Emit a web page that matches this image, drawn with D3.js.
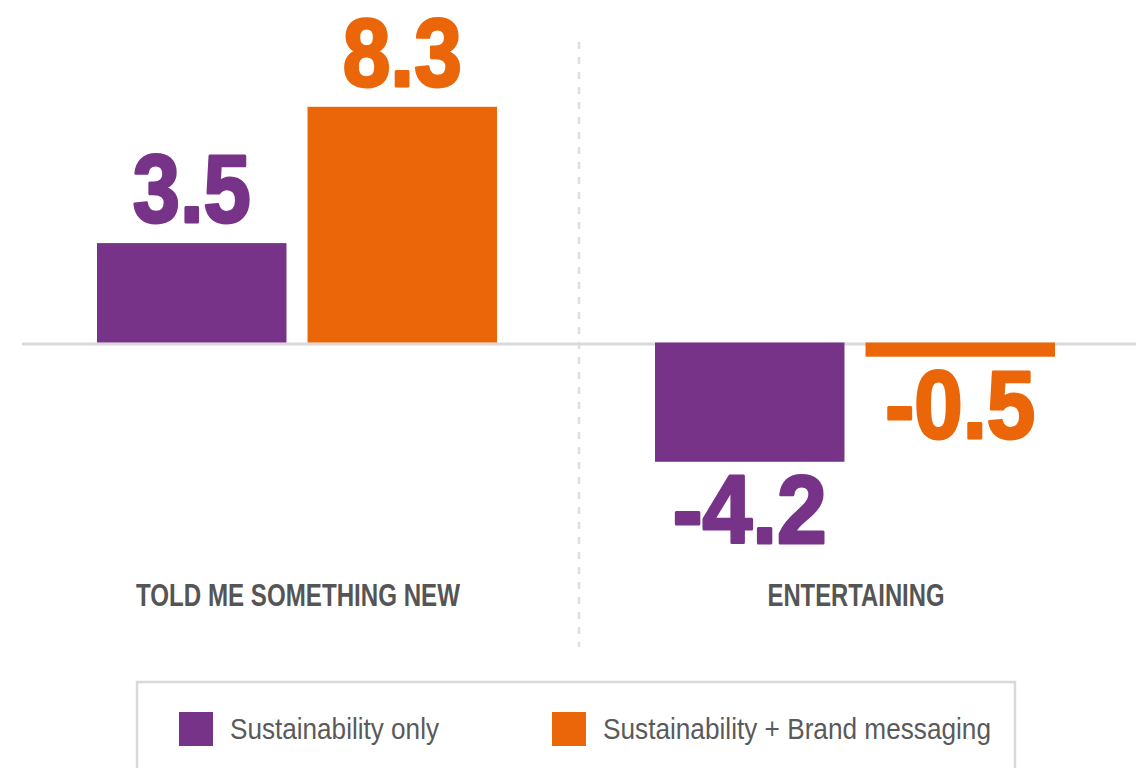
<!DOCTYPE html>
<html>
<head>
<meta charset="utf-8">
<script src="https://cdn.jsdelivr.net/npm/d3@7"></script>
<style>
  html, body { margin: 0; padding: 0; background: #fff; }
  svg { display: block; }
</style>
</head>
<body>
<svg id="chart" width="1148" height="768"></svg>
<script>
const categories = ["TOLD ME SOMETHING NEW", "ENTERTAINING"];
const seriesNames = ["Sustainability only", "Sustainability + Brand messaging"];
const sustainabilityOnly = [3.5, -4.2];
const sustainabilityBrand = [8.3, -0.5];
const valueLabels = [["3.5", "-4.2"], ["8.3", "-0.5"]];
const seriesValues = [sustainabilityOnly, sustainabilityBrand];
const colors = ["#773388", "#eb6608"];

const W = 1148, H = 768;
const svg = d3.select("#chart");
const narrow = "'Liberation Sans Narrow', 'Arial Narrow', 'Liberation Sans', sans-serif";

const x = d3.scaleBand().domain(categories).range([18, 1134]).padding(0);
const xs = d3.scaleBand().domain(seriesNames).range([79, 479]).paddingInner(0.1).paddingOuter(0);
const y = d3.scaleLinear().domain([-10, 10]).range([342.5 + 284, 342.5 - 284]);

// divider between groups
svg.append("line")
  .attr("x1", x(categories[1]) + 3).attr("x2", x(categories[1]) + 3)
  .attr("y1", 42).attr("y2", 647)
  .attr("stroke", "#dedede").attr("stroke-width", 2.5)
  .attr("stroke-dasharray", "7,8");

// zero line
svg.append("line")
  .attr("x1", 22).attr("x2", 1136)
  .attr("y1", y(0) + 1.5).attr("y2", y(0) + 1.5)
  .attr("stroke", "#d9d9d9").attr("stroke-width", 3);

const data = [];
categories.forEach((c, ci) => {
  seriesNames.forEach((s, si) => {
    data.push({cat: c, ser: s, si, v: seriesValues[si][ci], label: valueLabels[si][ci]});
  });
});

const g = svg.append("g");
g.selectAll("rect.bar").data(data).enter().append("rect")
  .attr("class", "bar")
  .attr("x", d => x(d.cat) + xs(d.ser))
  .attr("width", xs.bandwidth())
  .attr("y", d => Math.min(y(d.v), y(0)))
  .attr("height", d => Math.abs(y(d.v) - y(0)))
  .attr("fill", d => colors[d.si]);

const labelWidths = {"3.5": 121, "8.3": 122, "-4.2": 157, "-0.5": 153};
g.selectAll("text.val").data(data).enter().append("text")
  .attr("class", "val")
  .attr("x", d => x(d.cat) + xs(d.ser) + xs.bandwidth() / 2)
  .attr("y", d => d.v >= 0 ? y(d.v) - 21 : y(d.v) + 81)
  .attr("text-anchor", "middle")
  .attr("font-family", narrow)
  .attr("font-weight", "bold")
  .attr("font-size", 96)
  .attr("fill", d => colors[d.si])
  .attr("stroke", d => colors[d.si])
  .attr("stroke-width", 3)
  .attr("stroke-linejoin", "round")
  .attr("textLength", d => labelWidths[d.label] - 3)
  .attr("lengthAdjust", "spacingAndGlyphs")
  .text(d => d.label);

// category labels
const catWidths = [324, 177];
svg.selectAll("text.cat").data(categories).enter().append("text")
  .attr("class", "cat")
  .attr("x", d => x(d) + x.bandwidth() / 2 + 1)
  .attr("y", 606)
  .attr("text-anchor", "middle")
  .attr("font-family", narrow)
  .attr("font-weight", "bold")
  .attr("font-size", 31)
  .attr("fill", "#555555")
  .attr("textLength", (d, i) => catWidths[i])
  .attr("lengthAdjust", "spacingAndGlyphs")
  .text(d => d);

// legend
const legend = svg.append("g");
legend.append("rect")
  .attr("x", 137).attr("y", 682).attr("width", 878).attr("height", 120)
  .attr("fill", "none").attr("stroke", "#d9d9d9").attr("stroke-width", 2.5);
const legX = [179, 552];
const legTextW = [209, 388];
const li = legend.selectAll("g.item").data(seriesNames).enter().append("g")
  .attr("transform", (d, i) => `translate(${legX[i]},712)`);
li.append("rect").attr("width", 34).attr("height", 34).attr("fill", (d, i) => colors[i]);
li.append("text")
  .attr("x", 51).attr("y", 27)
  .attr("font-family", narrow)
  .attr("font-size", 30)
  .attr("fill", "#5a5a5a")
  .attr("textLength", (d, i) => legTextW[i])
  .attr("lengthAdjust", "spacingAndGlyphs")
  .text(d => d);
</script>
</body>
</html>
